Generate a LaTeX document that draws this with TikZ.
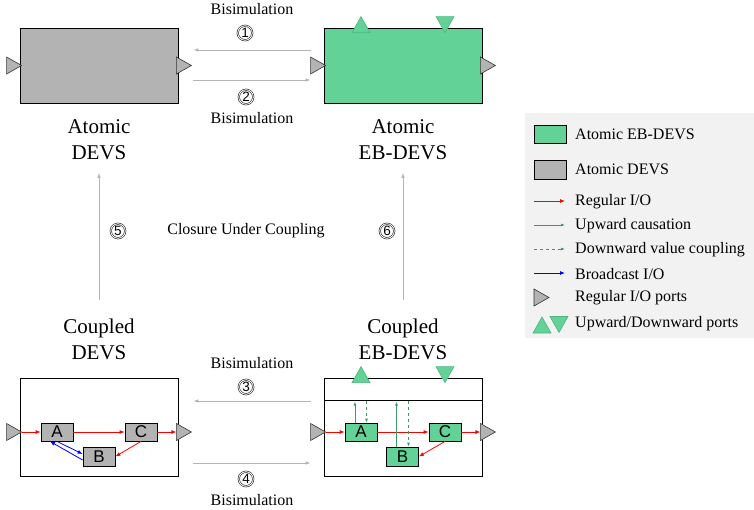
\documentclass[tikz,border=0pt]{standalone}
\usepackage{fontspec}
\setmainfont{Liberation Serif}
\newfontfamily\boxfont{Liberation Sans}
\usepackage{xcolor}
\usepackage{tikz}
\usetikzlibrary{arrows.meta,positioning,calc}

\definecolor{ebgreen}{HTML}{62D296}
\definecolor{ebline}{HTML}{4DB57E}
\definecolor{causal}{HTML}{3A9A66}
\definecolor{devsgray}{HTML}{B3B3B3}
\definecolor{relgray}{HTML}{B4B4B4}
\definecolor{legbg}{HTML}{F2F2F2}

\begin{document}
\begin{tikzpicture}[x=1pt, y=-1pt,
  model/.style={draw, rectangle, line width=0.8pt, minimum width=158pt, minimum height=75pt, inner sep=0pt},
  atomicdevs/.style={model, fill=devsgray},
  atomiceb/.style={model, fill=ebgreen},
  coupled/.style={model, minimum height=98pt, fill=white},
  sub/.style={draw, rectangle, line width=0.8pt, minimum width=32pt, minimum height=18pt, inner sep=0pt,
    font=\boxfont\fontsize{17}{17}\selectfont},
  subdevs/.style={sub, fill=devsgray},
  subeb/.style={sub, fill=ebgreen},
  bigtext/.style={align=center, inner sep=0pt, font=\fontsize{21}{26}\selectfont},
  smalltext/.style={inner sep=0pt, font=\fontsize{16}{19}\selectfont},
  numcirc/.style={circle, draw=black!80, double=white, double distance=0.8pt, line width=0.65pt,
    inner sep=0pt, minimum size=14.5pt, font=\boxfont\fontsize{13.5}{13.5}\selectfont},
  rel/.style={-{Latex[length=5pt,width=3.5pt]}, relgray, line width=0.8pt},
  regular/.style={-{Latex[length=5pt,width=4pt]}, red, line width=0.8pt},
  bcast/.style={-{Latex[length=5pt,width=4pt]}, blue, line width=0.8pt},
  upward/.style={-{Latex[length=4pt,width=3pt]}, causal, line width=0.8pt},
  downward/.style={upward, dashed},
  ioport/.pic={
    \draw[fill=devsgray, draw=black!80, line width=0.6pt] (0,-8.5) -- (15,0) -- (0,8.5) -- cycle;
    \coordinate (-base) at (0,0);
    \coordinate (-tip) at (15,0);
  },
  upport/.pic={\draw[fill=ebgreen, draw=ebline, line width=0.6pt] (-9,5) -- (0,-11) -- (9,5) -- cycle;},
  downport/.pic={\draw[fill=ebgreen, draw=ebline, line width=0.6pt] (-9,-11) -- (0,5) -- (9,-11) -- cycle;}
]
\useasboundingbox (0,0) rectangle (754,510);

% atomic models
\node[atomicdevs] (adevs) at (99,65.5) {};
\node[atomiceb] (aeb) at (403,65.5) {};
\pic (adevsin) at ([xshift=-13pt]adevs.west) {ioport};
\pic (adevsout) at ([xshift=-2pt]adevs.east) {ioport};
\pic (aebin) at ([xshift=-13pt]aeb.west) {ioport};
\pic (aebout) at ([xshift=-2pt]aeb.east) {ioport};
\pic at ([xshift=-42pt]aeb.north) {upport};
\pic at ([xshift=42pt]aeb.north) {downport};

\node[bigtext] (adevslbl) at (99,139.5) {Atomic\\DEVS};
\node[bigtext] (aeblbl) at (403,139.5) {Atomic\\EB-DEVS};

% bisimulation 1 and 2
\draw[rel] ([xshift=-13pt,yshift=15.5pt]aeb.west) -- ([xshift=15pt,yshift=15.5pt]adevs.east);
\draw[rel] ([xshift=15pt,yshift=-14.5pt]adevs.east) -- ([xshift=-13pt,yshift=-14.5pt]aeb.west);
\node[smalltext] (bis1) at (252,9) {Bisimulation};
\node[numcirc] (n1) at (245,33) {1};
\node[numcirc] (n2) at (246,97) {2};
\node[smalltext] (bis2) at (252,118) {Bisimulation};

% coupled models
\node[coupled] (cdevs) at (99,427) {};
\node[coupled] (ceb) at (403,427) {};
\pic (cdevsin) at ([xshift=-13pt,yshift=-5pt]cdevs.west) {ioport};
\pic (cdevsout) at ([xshift=-2pt,yshift=-5pt]cdevs.east) {ioport};
\pic (cebin) at ([xshift=-13pt,yshift=-5pt]ceb.west) {ioport};
\pic (cebout) at ([xshift=-2pt,yshift=-5pt]ceb.east) {ioport};
\pic at ([xshift=-42pt]ceb.north) {upport};
\pic at ([xshift=42pt]ceb.north) {downport};
\coordinate (divL) at ([yshift=-23pt]ceb.north west);
\coordinate (divR) at ([yshift=-23pt]ceb.north east);
\draw[line width=0.8pt] (divL) -- (divR);

\node[bigtext] (cdevslbl) at (99,339) {Coupled\\DEVS};
\node[bigtext] (ceblbl) at (403,339) {Coupled\\EB-DEVS};

% inside coupled DEVS
\node[subdevs] (Ad) at (57,432) {A};
\node[subdevs, minimum height=19pt] (Bd) at (99,456.5) {B};
\node[subdevs] (Cd) at (141,432) {C};
\draw[regular] (cdevsin-tip) -- (Ad.west);
\draw[regular] (Ad.east) -- (Cd.west);
\draw[regular] (Cd.east) -- (cdevsout-base);
\draw[regular] (Cd.south) -- (Bd.east);
\draw[bcast] (Ad.south) -- ([yshift=2.5pt]Bd.west);
\draw[bcast] ([yshift=-3.5pt]Bd.west) -- ([xshift=-7pt]Ad.south);

% inside coupled EB-DEVS
\node[subeb] (Ae) at (361,432) {A};
\node[subeb, minimum height=19pt] (Be) at (402.5,456.5) {B};
\node[subeb] (Ce) at (445,432) {C};
\draw[regular] (cebin-tip) -- (Ae.west);
\draw[regular] (Ae.east) -- (Ce.west);
\draw[regular] (Ce.east) -- (cebout-base);
\draw[regular] (Ce.south) -- (Be.east);
\coordinate (aup) at ([xshift=-6pt]Ae.north);
\coordinate (adown) at ([xshift=5.5pt]Ae.north);
\coordinate (bup) at ([xshift=-6pt]Be.north);
\coordinate (bdown) at ([xshift=6pt]Be.north);
\draw[upward] (aup) -- ([yshift=-1pt]aup |- divL);
\draw[downward] (adown |- divL) -- (adown);
\draw[upward] (bup) -- ([yshift=-1pt]bup |- divL);
\draw[downward] (bdown |- divL) -- (bdown);

% bisimulation 3 and 4
\draw[rel] ([xshift=-13pt,yshift=26pt]ceb.west) -- ([xshift=15pt,yshift=26pt]cdevs.east);
\draw[rel] ([xshift=15pt,yshift=-36pt]cdevs.east) -- ([xshift=-13pt,yshift=-36pt]ceb.west);
\node[smalltext] (bis3) at (252,363) {Bisimulation};
\node[numcirc] (n3) at (246,387) {3};
\node[numcirc] (n4) at (246,479) {4};
\node[smalltext] (bis4) at (252,500) {Bisimulation};

% closure under coupling
\draw[rel, shorten <=18pt, shorten >=13pt] (cdevslbl.north) -- (adevslbl.south);
\draw[rel, shorten <=18pt, shorten >=13pt] (ceblbl.north) -- (aeblbl.south);
\node[numcirc] (n5) at (118,231) {5};
\node[numcirc] (n6) at (387,231) {6};
\node[smalltext] (closure) at (246,231) {Closure Under Coupling};

% legend
\node[fill=legbg, minimum width=229pt, minimum height=225pt, inner sep=0pt] (legend) at (639.5,225.5) {};
\node[atomiceb, minimum width=32pt, minimum height=18pt] (keb) at (550,134) {};
\node[atomicdevs, minimum width=32pt, minimum height=19pt] (kdevs) at (550,169.5) {};
\node[smalltext, anchor=west] (leb) at (575,134) {Atomic EB-DEVS};
\node[smalltext, anchor=west] (ldevs) at (575,169) {Atomic DEVS};
\node[smalltext, anchor=west] (lreg) at (575,202) {Regular I/O};
\node[smalltext, anchor=west] (lup) at (575,226) {Upward causation};
\node[smalltext, anchor=west] (ldown) at (575,250) {Downward value coupling};
\node[smalltext, anchor=west] (lbc) at (575,274) {Broadcast I/O};
\node[smalltext, anchor=west] (lport) at (575,298) {Regular I/O ports};
\node[smalltext, anchor=west] (lud) at (575,324) {Upward/Downward ports};
\draw[regular] ([xshift=-41pt,yshift=1pt]lreg.west) -- ([xshift=-10pt,yshift=1pt]lreg.west);
\draw[upward] ([xshift=-41pt,yshift=1pt]lup.west) -- ([xshift=-10pt,yshift=1pt]lup.west);
\draw[downward] ([xshift=-41pt,yshift=1pt]ldown.west) -- ([xshift=-10pt,yshift=1pt]ldown.west);
\draw[bcast] ([xshift=-41pt,yshift=1pt]lbc.west) -- ([xshift=-10pt,yshift=1pt]lbc.west);
\pic at (534,297.5) {ioport};
\pic at (542,328) {upport};
\pic at (559,327.5) {downport};
\end{tikzpicture}
\end{document}
